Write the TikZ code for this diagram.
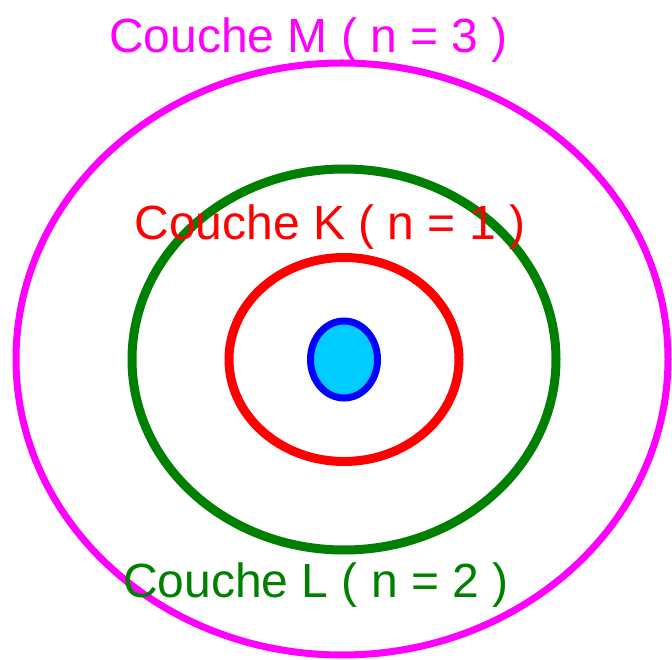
\documentclass[tikz,border=0pt]{standalone}
\usepackage{fontspec}
\setmainfont{Liberation Sans}
\usepackage{tikz}

\definecolor{shellM}{RGB}{255,0,255}
\definecolor{shellL}{RGB}{0,128,0}
\definecolor{shellK}{RGB}{255,0,0}
\definecolor{nucleus}{RGB}{0,0,255}
\definecolor{nucleusfill}{RGB}{0,204,255}

\begin{document}
\begin{tikzpicture}[x=1pt, y=1pt,
  lbl/.style={font=\fontsize{48}{56}\selectfont, anchor=base, inner sep=0pt},
  shell/.style={line width=8pt},
]
\useasboundingbox (0,0) rectangle (672,659);

\coordinate (c) at (344,299.5);

% Shells
\draw[shell,shellM,line width=7pt] (342,300) ellipse [x radius=326, y radius=296];
\draw[shell,shellL,line width=9pt] (c) ellipse [x radius=212, y radius=190.5];
\draw[shell,shellK,line width=9pt] (c) ellipse [x radius=115, y radius=102];

% Nucleus
\draw[line width=7pt,nucleus,fill=nucleusfill] (c) ellipse [x radius=33.5, y radius=38.5];

% Labels
\node[lbl,text=shellM] (labM) at (308.5,606) {Couche M ( n = 3 )};
\node[lbl,text=shellK] (labK) at (330,419) {Couche K ( n = 1 )};
\node[lbl,text=shellL] (labL) at (316,62) {Couche L ( n = 2 )};

\end{tikzpicture}
\end{document}
